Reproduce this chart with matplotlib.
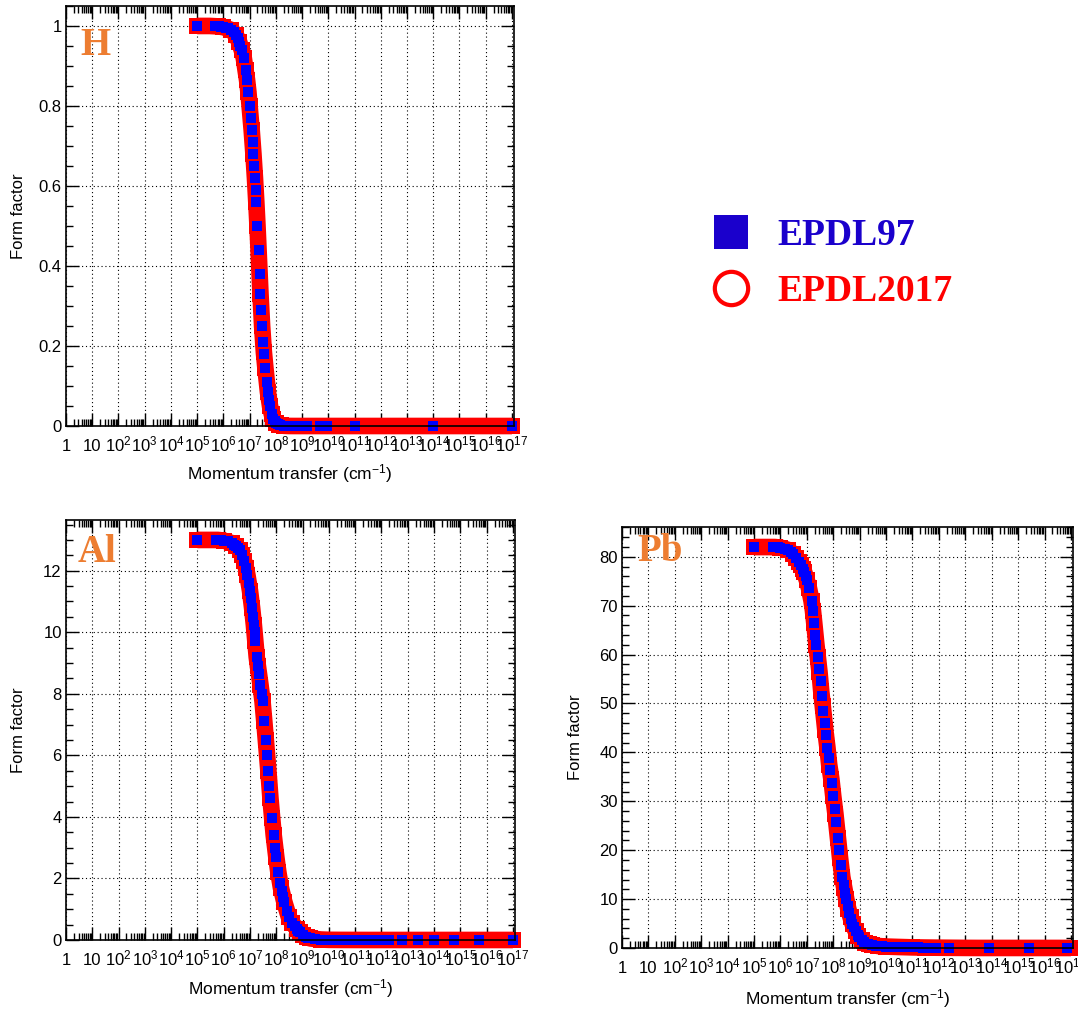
import matplotlib
matplotlib.use("Agg")
import matplotlib.pyplot as plt
from matplotlib.lines import Line2D
from matplotlib.ticker import FixedLocator, LogLocator, MultipleLocator, FuncFormatter, NullFormatter

plt.rcParams['font.family'] = ['Liberation Sans', 'DejaVu Sans']
plt.rcParams['mathtext.default'] = 'regular'

# ---------------- datos ----------------
x_ticks = [1, 1e1, 1e2, 1e3, 1e4, 1e5, 1e6, 1e7, 1e8, 1e9,
           1e10, 1e11, 1e12, 1e13, 1e14, 1e15, 1e16, 1e17]
x_labels = ['1', '10', '$10^{2}$', '$10^{3}$', '$10^{4}$', '$10^{5}$', '$10^{6}$',
            '$10^{7}$', '$10^{8}$', '$10^{9}$', '$10^{10}$', '$10^{11}$', '$10^{12}$',
            '$10^{13}$', '$10^{14}$', '$10^{15}$', '$10^{16}$', '$10^{17}$']
series_names = ['EPDL97', 'EPDL2017']

# H - EPDL97
h_q97 = [1e5, 5e5, 6e5, 7e5, 8e5,
         1e6, 1.25e6, 1.5e6, 2e6, 2.5e6,
         3e6, 3.5e6, 4e6, 4.5e6, 5e6,
         6e6, 7e6, 8e6, 9e6, 1e7,
         1.1e7, 1.2e7, 1.3e7, 1.4e7, 1.5e7,
         1.6e7, 1.7e7, 1.8e7, 2e7, 2.2e7,
         2.4e7, 2.6e7, 2.8e7, 3e7, 3.3e7,
         3.6e7, 4e7, 4.5e7, 5e7, 5.5e7,
         6e7, 7e7, 8e7, 9e7, 1e8,
         1.2e8, 1.5e8, 2e8, 3e8, 5e8,
         7e8, 1e9, 1.5e9, 5e9, 9e9,
         1e11, 1e14, 1e17]
h_f97 = [1.0, 1.0, 0.999, 0.999, 0.998,
         0.997, 0.996, 0.994, 0.990, 0.984,
         0.977, 0.969, 0.960, 0.950, 0.940,
         0.920, 0.890, 0.865, 0.835, 0.800,
         0.770, 0.740, 0.710, 0.680, 0.650,
         0.620, 0.590, 0.560, 0.500, 0.440,
         0.380, 0.330, 0.290, 0.250, 0.210,
         0.180, 0.145, 0.110, 0.085, 0.065,
         0.050, 0.030, 0.018, 0.012, 0.008,
         0.004, 0.002, 0.0006, 0.0001, 0.0,
         0.0, 0.0, 0.0, 0.0, 0.0,
         0.0, 0.0, 0.0]
# H - EPDL2017
h_q17 = [1e5, 3e5, 6e5, 1e6, 2e6,
         3e6, 4e6, 5e6, 6e6, 7e6,
         8e6, 9e6, 1e7, 1.2e7, 1.4e7,
         1.6e7, 1.8e7, 2e7, 2.3e7, 2.6e7,
         3e7, 3.5e7, 4e7, 5e7, 6e7,
         7e7, 8e7, 1e8, 1.3e8, 1.6e8,
         2e8, 3e8, 5e8, 1e9, 3e9,
         1e10, 3e10, 1e11, 3e11, 1e12,
         3e12, 1e13, 3e13, 1e14, 3e14,
         1e15, 3e15, 1e16, 3e16, 1e17]
h_f17 = [1.0, 1.0, 0.999, 0.997, 0.990,
         0.977, 0.960, 0.940, 0.920, 0.890,
         0.865, 0.835, 0.800, 0.740, 0.680,
         0.620, 0.560, 0.500, 0.410, 0.330,
         0.250, 0.185, 0.145, 0.085, 0.050,
         0.030, 0.018, 0.008, 0.003, 0.0015,
         0.0006, 0.0001, 0.0, 0.0, 0.0,
         0.0, 0.0, 0.0, 0.0, 0.0,
         0.0, 0.0, 0.0, 0.0, 0.0,
         0.0, 0.0, 0.0, 0.0, 0.0]

# Al - EPDL97
al_q97 = [1e5, 5e5, 6e5, 8e5, 1e6,
          1.5e6, 2e6, 2.5e6, 3e6, 3.5e6,
          4e6, 5e6, 6e6, 7e6, 8e6,
          9e6, 1e7, 1.1e7, 1.2e7, 1.3e7,
          1.4e7, 1.5e7, 1.6e7, 1.8e7, 2e7,
          2.2e7, 2.5e7, 2.8e7, 3e7, 3.5e7,
          4e7, 4.5e7, 5e7, 5.5e7, 6e7,
          7e7, 8e7, 9e7, 1e8, 1.2e8,
          1.4e8, 1.6e8, 1.8e8, 2e8, 2.5e8,
          3e8, 4e8, 5e8, 6e8, 7e8,
          8e8, 1e9, 1.3e9, 1.6e9, 2e9,
          3e9, 5e9, 8e9, 1.2e10, 2e10,
          3e10, 5e10, 8e10, 1.2e11, 2e11,
          3e11, 5e11, 8e11, 1.2e12, 2e12,
          6e12, 2.4e13, 1e14, 5.6e14, 5e15,
          1e17]
al_f97 = [13.0, 13.0, 13.0, 12.99, 12.98,
          12.95, 12.9, 12.85, 12.8, 12.74,
          12.68, 12.5, 12.3, 12.1, 11.85,
          11.6, 11.35, 11.1, 10.8, 10.5,
          10.25, 10.0, 9.7, 9.2, 8.9,
          8.65, 8.3, 8.0, 7.75, 7.1,
          6.5, 6.0, 5.5, 5.0, 4.6,
          3.95, 3.4, 3.0, 2.7, 2.2,
          1.85, 1.6, 1.4, 1.25, 0.95,
          0.75, 0.55, 0.45, 0.37, 0.3,
          0.25, 0.17, 0.11, 0.08, 0.05,
          0.03, 0.015, 0.008, 0.005, 0.003,
          0.002, 0.001, 0.0, 0.0, 0.0,
          0.0, 0.0, 0.0, 0.0, 0.0,
          0.0, 0.0, 0.0, 0.0, 0.0,
          0.0]
# Al - EPDL2017
al_q17 = [1e5, 3e5, 6e5, 1e6, 2e6,
          3e6, 4e6, 5e6, 6e6, 7e6,
          8e6, 1e7, 1.2e7, 1.4e7, 1.6e7,
          1.8e7, 2e7, 2.5e7, 3e7, 3.5e7,
          4e7, 5e7, 6e7, 7e7, 8e7,
          1e8, 1.2e8, 1.5e8, 2e8, 3e8,
          4e8, 6e8, 8e8, 1e9, 1.5e9,
          2e9, 5e9, 1e10, 3e10, 1e11,
          3e11, 1e12, 3e12, 1e13, 3e13,
          1e14, 3e14, 1e15, 3e15, 1e16,
          3e16, 1e17]
al_f17 = [13.0, 13.0, 13.0, 12.98, 12.9,
          12.8, 12.68, 12.5, 12.3, 12.1,
          11.85, 11.35, 10.8, 10.25, 9.7,
          9.2, 8.9, 8.3, 7.75, 7.1,
          6.5, 5.5, 4.6, 3.95, 3.4,
          2.7, 2.2, 1.7, 1.25, 0.75,
          0.55, 0.37, 0.25, 0.17, 0.09,
          0.05, 0.015, 0.005, 0.002, 0.001,
          0.0, 0.0, 0.0, 0.0, 0.0,
          0.0, 0.0, 0.0, 0.0, 0.0,
          0.0, 0.0]

# Pb - EPDL97
pb_q97 = [1e5, 5e5, 6e5, 8e5, 1e6,
          1.5e6, 2e6, 2.5e6, 3e6, 4e6,
          5e6, 6e6, 7e6, 8e6, 9e6,
          1e7, 1.2e7, 1.5e7, 1.7e7, 1.9e7,
          2.1e7, 2.3e7, 2.6e7, 2.95e7, 3.3e7,
          3.7e7, 4.2e7, 4.7e7, 5.3e7, 6e7,
          6.8e7, 7.7e7, 8.7e7, 1e8, 1.15e8,
          1.3e8, 1.5e8, 1.7e8, 1.95e8, 2.2e8,
          2.5e8, 2.8e8, 3.1e8, 3.5e8, 4e8,
          4.6e8, 5.3e8, 6.2e8, 7.2e8, 8.3e8,
          9.5e8, 1.2e9, 1.5e9, 2e9, 3e9,
          4e9, 5e9, 7e9, 1e10, 1.5e10,
          2.5e10, 4e10, 6e10, 1e11, 1.6e11,
          2.5e11, 4e11, 8e11, 2.5e12, 8e13,
          2.5e15, 7e16]
pb_f97 = [82.0, 82.0, 82.0, 81.95, 81.9,
          81.7, 81.4, 81.0, 80.6, 79.8,
          79.0, 78.3, 77.6, 76.8, 76.0,
          75.2, 73.6, 71.0, 69.0, 66.5,
          64.0, 62.0, 59.5, 57.0, 54.5,
          51.5, 48.5, 46.0, 43.5, 41.0,
          38.8, 36.3, 33.8, 31.0, 28.5,
          25.8, 22.5, 20.0, 17.0, 14.5,
          12.8, 11.3, 10.0, 8.5, 7.2,
          6.0, 5.0, 4.2, 3.4, 2.7,
          2.2, 1.6, 1.2, 0.85, 0.6,
          0.45, 0.4, 0.33, 0.28, 0.25,
          0.2, 0.17, 0.15, 0.12, 0.1,
          0.08, 0.06, 0.05, 0.03, 0.01,
          0.0, 0.0]
# Pb - EPDL2017
pb_q17 = [1e5, 3e5, 6e5, 1e6, 2e6,
          3e6, 4e6, 5e6, 6e6, 7e6,
          8e6, 1e7, 1.2e7, 1.5e7, 1.7e7,
          1.9e7, 2.3e7, 2.6e7, 3e7, 3.5e7,
          4e7, 5e7, 6e7, 7e7, 8.5e7,
          1e8, 1.2e8, 1.5e8, 1.8e8, 2.2e8,
          2.6e8, 3.1e8, 3.7e8, 4.5e8, 5.5e8,
          7e8, 9e8, 1.2e9, 1.6e9, 2.2e9,
          3e9, 5e9, 1e10, 3e10, 1e11,
          3e11, 1e12, 3e12, 1e13, 3e13,
          1e14, 3e14, 1e15, 3e15, 1e16,
          3e16, 1e17]
pb_f17 = [82.0, 82.0, 82.0, 81.9, 81.4,
          80.6, 79.8, 79.0, 78.3, 77.6,
          76.8, 75.2, 73.6, 71.0, 69.0,
          66.5, 62.0, 59.5, 56.5, 52.5,
          49.5, 44.5, 41.0, 37.5, 34.5,
          31.0, 27.5, 22.5, 18.5, 14.5,
          12.3, 10.0, 8.0, 6.3, 4.8,
          3.5, 2.5, 1.6, 1.1, 0.75,
          0.6, 0.4, 0.28, 0.2, 0.12,
          0.08, 0.05, 0.03, 0.01, 0.0,
          0.0, 0.0, 0.0, 0.0, 0.0,
          0.0, 0.0]

label_color = '#ed7d31'


def draw_panel(fig, rect, q97, f97, q17, f17, ymax, ymajor, yminor,
               name, name_pos, ylab_x, xlab_y):
    ax = fig.add_axes(rect)
    # EPDL2017: banda roja gruesa, EPDL97: cuadrados azules encima
    ax.plot(q17, f17, color='#ff0000', lw=12, marker='s', ms=12, mew=0,
            solid_joinstyle='round', solid_capstyle='butt', clip_on=False, zorder=2)
    ax.plot(q97, f97, ls='none', marker='s', ms=6.5, color='#0000ff', mew=0,
            clip_on=False, zorder=2.1)

    ax.set_xscale('log')
    ax.set_xlim(1, 1.2e17)
    ax.set_ylim(0, ymax)

    ax.xaxis.set_major_locator(FixedLocator(x_ticks))
    ax.xaxis.set_minor_locator(LogLocator(base=10, subs=(2, 3, 4, 5, 6, 7, 8, 9), numticks=60))
    ax.xaxis.set_minor_formatter(NullFormatter())
    ax.set_xticklabels(x_labels)
    ax.yaxis.set_major_locator(MultipleLocator(ymajor))
    ax.yaxis.set_minor_locator(MultipleLocator(yminor))
    ax.yaxis.set_major_formatter(FuncFormatter(lambda v, p: '%g' % round(v, 6)))

    ax.grid(True, which='major', color='black', linestyle=(0, (1, 2.5)), lw=0.8)
    for s in ax.spines.values():
        s.set_linewidth(1.2)

    ax.tick_params(which='both', direction='in', top=True, right=True, width=1.0,
                   labelsize=12, colors='black')
    ax.tick_params(which='major', length=9.5)
    ax.tick_params(which='minor', length=5)
    ax.tick_params(axis='x', pad=18)
    ax.tick_params(axis='y', pad=3)
    for lab in ax.get_xticklabels():
        lab.set_verticalalignment('baseline')

    ax.set_xlabel('Momentum transfer (cm$^{-1}$)', fontsize=12.5)
    ax.set_ylabel('Form factor', fontsize=12)
    ax.xaxis.set_label_coords(0.5, xlab_y)
    ax.yaxis.set_label_coords(ylab_x, 0.5)

    ax.text(name_pos[0], name_pos[1], name, transform=ax.transAxes, fontsize=28,
            fontweight='bold', family='Liberation Serif', color=label_color, va='baseline')
    return ax


fig = plt.figure(figsize=(10.78, 10.09), dpi=100)

draw_panel(fig, [0.0612, 0.5778, 0.4156, 0.4163], h_q97, h_f97, h_q17, h_f17,
           1.05, 0.2, 0.05, 'H', (0.033, 0.883), -0.09, -0.085)
draw_panel(fig, [0.0612, 0.0684, 0.4165, 0.4163], al_q97, al_f97, al_q17, al_f17,
           13.65, 2, 0.5, 'Al', (0.025, 0.90), -0.09, -0.088)
draw_panel(fig, [0.577, 0.0605, 0.4184, 0.4172], pb_q97, pb_f97, pb_q17, pb_f17,
           86.1, 10, 2, 'Pb', (0.033, 0.919), -0.086, -0.093)

# Leyenda
handles = [Line2D([], [], ls='none', marker='s', ms=24.5, color='#1a00cc', mew=0),
           Line2D([], [], ls='none', marker='o', ms=24, mfc='none', mec='#ff0000', mew=3)]
fig.legend(handles, series_names, loc='center left', bbox_to_anchor=(0.652, 0.739),
           frameon=False, prop={'family': 'Liberation Serif', 'weight': 'bold', 'size': 27},
           labelcolor=['#1a00cc', '#ff0000'], handlelength=1.5, handletextpad=0.5,
           labelspacing=0.55, borderpad=0, borderaxespad=0)

fig.savefig('out.png', dpi=100)
